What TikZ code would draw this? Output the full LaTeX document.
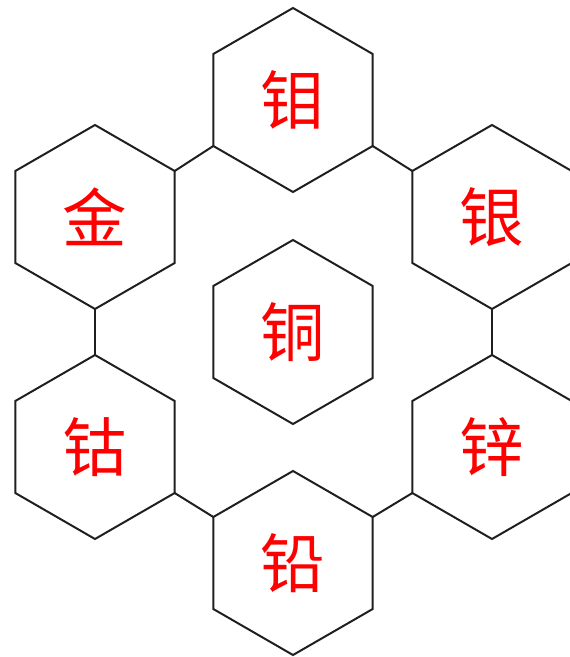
\documentclass[tikz,border=0pt]{standalone}
\usepackage{fontspec}
\newfontfamily\cjk{Noto Sans CJK SC}
\usetikzlibrary{shapes.geometric}
\tikzset{
    waben/.style={draw=black!88, line width=1.7pt, regular polygon, regular polygon sides=6,
        shape border rotate=30, minimum size=5.52cm, inner sep=0pt, outer sep=0pt,
        text=red, font=\cjk\fontsize{55}{55}\selectfont},
    verbindung/.style={draw=black!88, line width=1.7pt}
}

\begin{document}
\begin{tikzpicture}[x=0.03cm, y=-0.03cm]
\useasboundingbox (0,0) rectangle (569,657);

% Waben
\node[waben] (kupfer) at (293,332) {铜};
\node[waben] (molybdaen) at (293,100) {钼};
\node[waben] (gold) at (95,217) {金};
\node[waben] (silber) at (492,217) {银};
\node[waben] (kobalt) at (95,447) {钴};
\node[waben] (zink) at (492,447) {锌};
\node[waben] (blei) at (293,563) {铅};

% Verbindungen
\draw[verbindung] (molybdaen.210) -- (gold.30);
\draw[verbindung] (molybdaen.330) -- (silber.150);
\draw[verbindung] (gold.270) -- (kobalt.90);
\draw[verbindung] (silber.270) -- (zink.90);
\draw[verbindung] (kobalt.330) -- (blei.150);
\draw[verbindung] (zink.210) -- (blei.30);
\end{tikzpicture}
\end{document}
